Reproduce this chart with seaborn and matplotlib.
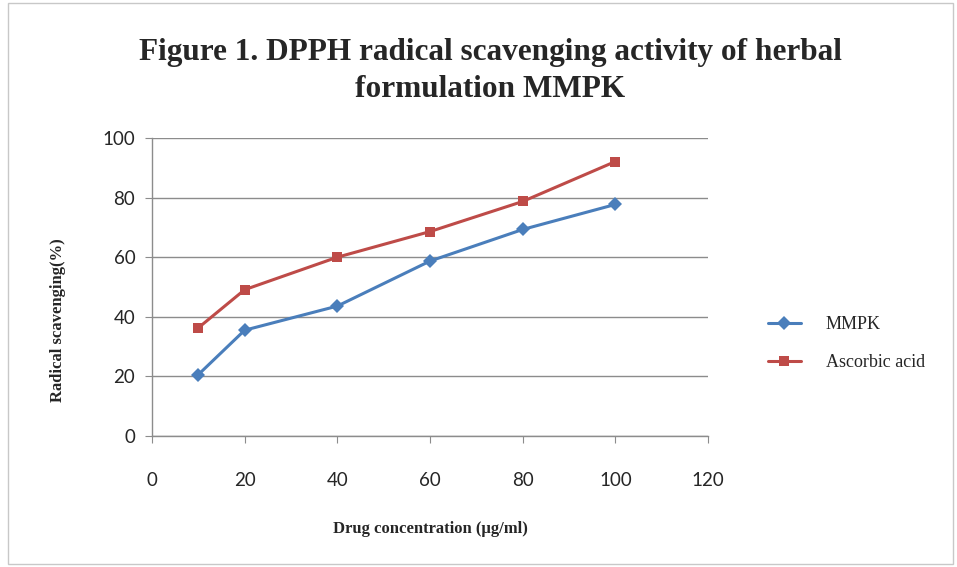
import matplotlib
matplotlib.use("Agg")
import matplotlib.pyplot as plt
import seaborn as sns
import pandas as pd
from matplotlib.patches import Rectangle

# Data
concentration = [10, 20, 40, 60, 80, 100]
mmpk = [20.6, 35.5, 43.6, 58.7, 69.3, 77.7]
ascorbic = [36.3, 49.1, 60.0, 68.6, 78.7, 92.1]
x_ticks = [0, 20, 40, 60, 80, 100, 120]
y_ticks = [0, 20, 40, 60, 80, 100]

df = pd.DataFrame({
    "conc": concentration * 2,
    "value": mmpk + ascorbic,
    "series": ["MMPK"] * len(mmpk) + ["Ascorbic acid"] * len(ascorbic),
})

sns.set_style("white")
plt.rcParams["font.family"] = ["Lato", "DejaVu Sans"]

fig = plt.figure(figsize=(9.57, 5.67), dpi=100)
ax = fig.add_axes([152 / 957, 1 - 436 / 567, (708 - 152) / 957, (436 - 138) / 567])

# outer chart border
fig.patches.append(Rectangle((8 / 957, 0.005), 945 / 957, 0.99, transform=fig.transFigure,
                             fill=False, edgecolor="#c8c8c8", linewidth=1))

sns.lineplot(data=df, x="conc", y="value", hue="series", style="series",
             palette={"MMPK": "#4A7EBB", "Ascorbic acid": "#BE4B48"},
             markers={"MMPK": "D", "Ascorbic acid": "s"}, dashes=False,
             markersize=7, linewidth=2.2, markeredgewidth=0, ax=ax)

ax.set_xlim(0, 120)
ax.set_ylim(0, 100)
ax.set_xticks(x_ticks)
ax.set_yticks(y_ticks)
ax.yaxis.grid(True, color="#8c8c8c", linewidth=1)
ax.set_axisbelow(True)
for s in ["top", "right"]:
    ax.spines[s].set_visible(False)
for s in ["left", "bottom"]:
    ax.spines[s].set_color("#8c8c8c")
    ax.spines[s].set_linewidth(1)
ax.tick_params(axis="both", direction="out", length=5, color="#8c8c8c",
               labelsize=13.5, left=True, bottom=True)
ax.tick_params(axis="y", pad=7)
ax.tick_params(axis="x", pad=21)

ax.set_xlabel("Drug concentration (μg/ml)", family="Liberation Serif",
              fontweight="bold", fontsize=12, labelpad=23)
ax.set_ylabel("Radical scavenging(%)", family="Liberation Serif",
              fontweight="bold", fontsize=12)
ax.yaxis.set_label_coords(-0.155, 0.39)

fig.text(490 / 957, 1 - 71 / 567,
         "Figure 1. DPPH radical scavenging activity of herbal\nformulation MMPK",
         ha="center", va="center", family="Liberation Serif", fontweight="bold",
         fontsize=22.5, linespacing=1.32)

handles, labels = ax.get_legend_handles_labels()
ax.legend(handles, labels, loc="center left", bbox_to_anchor=(1.079, 0.31), frameon=False,
          prop={"family": "Liberation Serif", "size": 13}, handlelength=1.8,
          handletextpad=1.4, labelspacing=1.15)

fig.savefig("out.png", dpi=100)
